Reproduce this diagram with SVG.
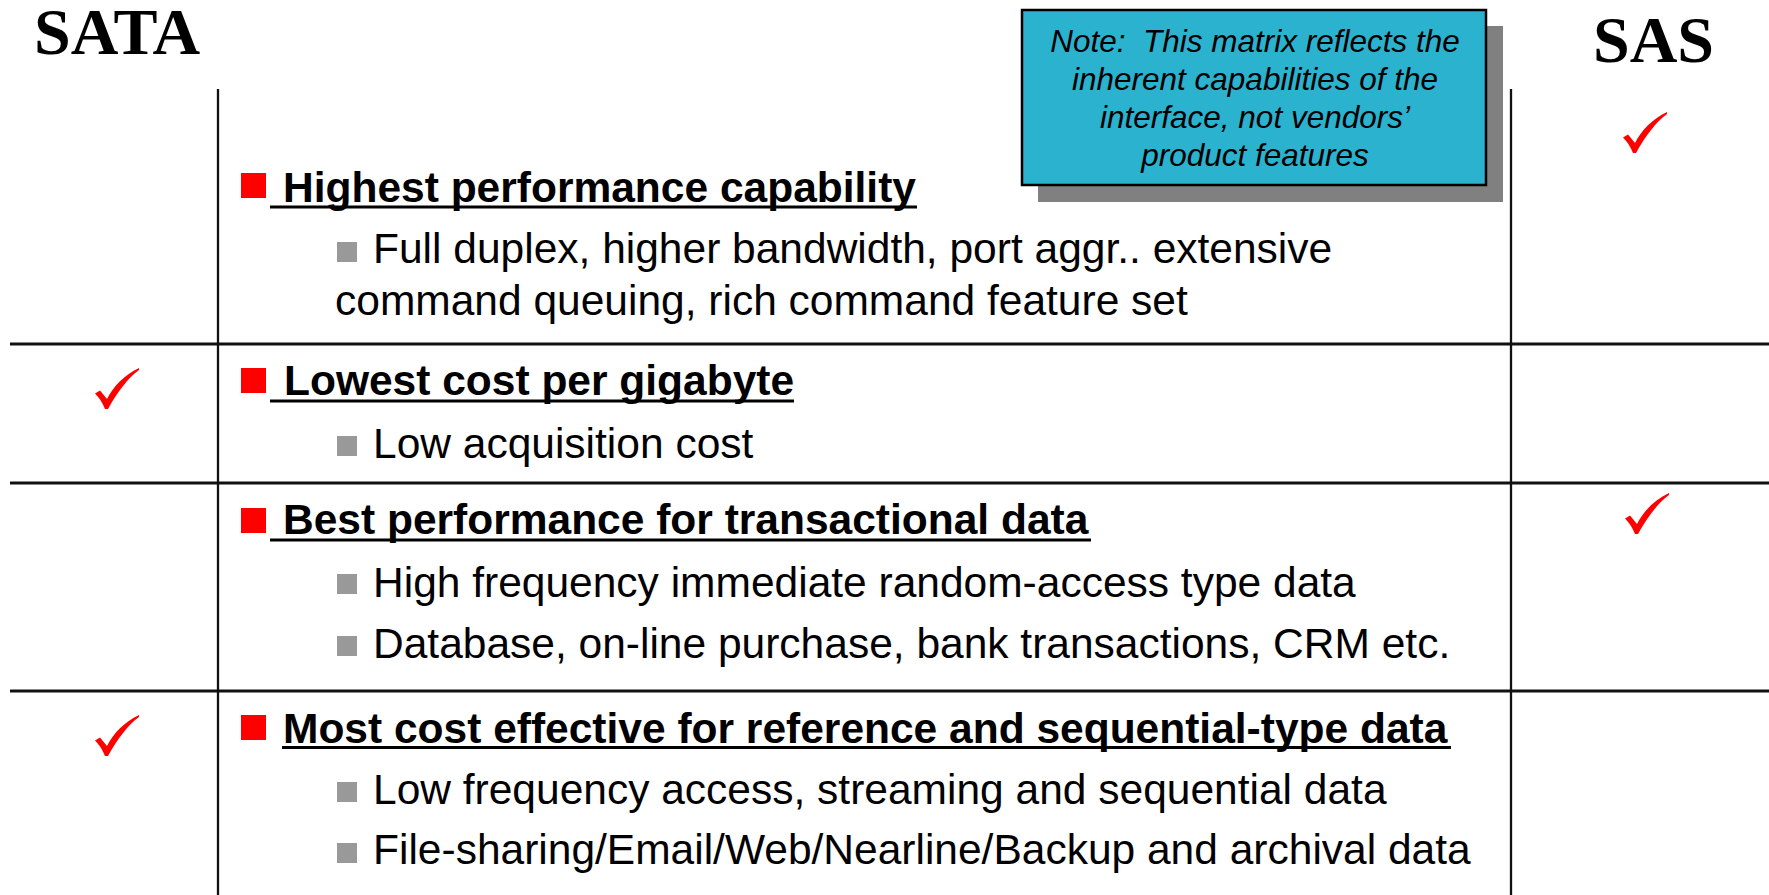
<svg xmlns="http://www.w3.org/2000/svg" xmlns:xlink="http://www.w3.org/1999/xlink" width="1769" height="895" viewBox="0 0 1769 895">
<style>
.title{font-family:"Liberation Serif","Times New Roman",serif;font-weight:bold;font-size:66px;fill:#000}
.head{font-family:"Liberation Sans",Arial,sans-serif;font-weight:bold;font-size:42.5px;fill:#000}
.sub{font-family:"Liberation Sans",Arial,sans-serif;font-size:42.5px;fill:#000}
.note{font-family:"Liberation Sans",Arial,sans-serif;font-style:italic;font-size:31.5px;fill:#000}
.grid{stroke:#111;fill:none}
.ul{stroke:#000;stroke-width:3}
.rb{fill:#FF0000}
.gb{fill:#999999}
.chk{fill:#FF0000}
</style>
<defs>
<path id="check" d="M0,25.5 L5,22.5 L12,31 C18.5,18 29.5,7 44,0 L44,2 C33,10 22.5,24 13,41 L10,41 C7.5,34.5 4,29.5 0,25.5 Z"/>
</defs>
<rect width="1769" height="895" fill="#fff"/>
<g id="headers">
<text class="title" x="34" y="54">SATA</text>
<text class="title" x="1593" y="62">SAS</text>
</g>
<g id="note">
<rect x="1038" y="26" width="465" height="176" fill="#808080"/>
<rect x="1022" y="10" width="464" height="175" fill="#2AB2CF" stroke="#000" stroke-width="2.5"/>
<text class="note" text-anchor="middle" x="1255" y="51.5" xml:space="preserve">Note:  This matrix reflects the</text>
<text class="note" text-anchor="middle" x="1255" y="89.5">inherent capabilities of the</text>
<text class="note" text-anchor="middle" x="1255" y="128">interface, not vendors’</text>
<text class="note" text-anchor="middle" x="1255" y="166">product features</text>
</g>
<g id="connectors">
<line class="grid" x1="218" y1="89" x2="218" y2="895" stroke-width="2.3"/>
<line class="grid" x1="1511" y1="89" x2="1511" y2="895" stroke-width="2.3"/>
<line class="grid" x1="10" y1="344" x2="1769" y2="344" stroke-width="3"/>
<line class="grid" x1="10" y1="483" x2="1769" y2="483" stroke-width="3"/>
<line class="grid" x1="10" y1="691" x2="1769" y2="691" stroke-width="3"/>
</g>
<g id="row1">
<use xlink:href="#check" class="chk" x="1623" y="112"/>
<rect class="rb" x="241" y="173" width="25" height="25"/>
<text class="head" x="283" y="201.5">Highest performance capability</text>
<line class="ul" x1="270" y1="207" x2="917" y2="207"/>
<rect class="gb" x="337" y="242" width="20" height="20"/>
<text class="sub" x="373" y="263">Full duplex, higher bandwidth, port aggr.. extensive</text>
<text class="sub" x="335" y="315">command queuing, rich command feature set</text>
</g>
<g id="row2">
<use xlink:href="#check" class="chk" x="95" y="368"/>
<rect class="rb" x="241" y="368" width="25" height="25"/>
<text class="head" x="284" y="395">Lowest cost per gigabyte</text>
<line class="ul" x1="270" y1="401" x2="794" y2="401"/>
<rect class="gb" x="337" y="436" width="20" height="20"/>
<text class="sub" x="373" y="457.5">Low acquisition cost</text>
</g>
<g id="row3">
<use xlink:href="#check" class="chk" x="1625" y="493"/>
<rect class="rb" x="241" y="508" width="25" height="25"/>
<text class="head" x="283" y="534">Best performance for transactional data</text>
<line class="ul" x1="270" y1="540" x2="1091" y2="540"/>
<rect class="gb" x="337" y="574" width="20" height="20"/>
<text class="sub" x="373" y="596.5">High frequency immediate random-access type data</text>
<rect class="gb" x="337" y="636" width="20" height="20"/>
<text class="sub" x="373" y="658">Database, on-line purchase, bank transactions, CRM etc.</text>
</g>
<g id="row4">
<use xlink:href="#check" class="chk" x="95" y="715"/>
<rect class="rb" x="241" y="715" width="25" height="25"/>
<text class="head" x="283" y="742.5">Most cost effective for reference and sequential-type data</text>
<line class="ul" x1="282" y1="747.5" x2="1451" y2="747.5"/>
<rect class="gb" x="337" y="782" width="20" height="20"/>
<text class="sub" x="373" y="804">Low frequency access, streaming and sequential data</text>
<rect class="gb" x="337" y="843" width="20" height="20"/>
<text class="sub" x="373" y="864">File-sharing/Email/Web/Nearline/Backup and archival data</text>
</g>
</svg>
